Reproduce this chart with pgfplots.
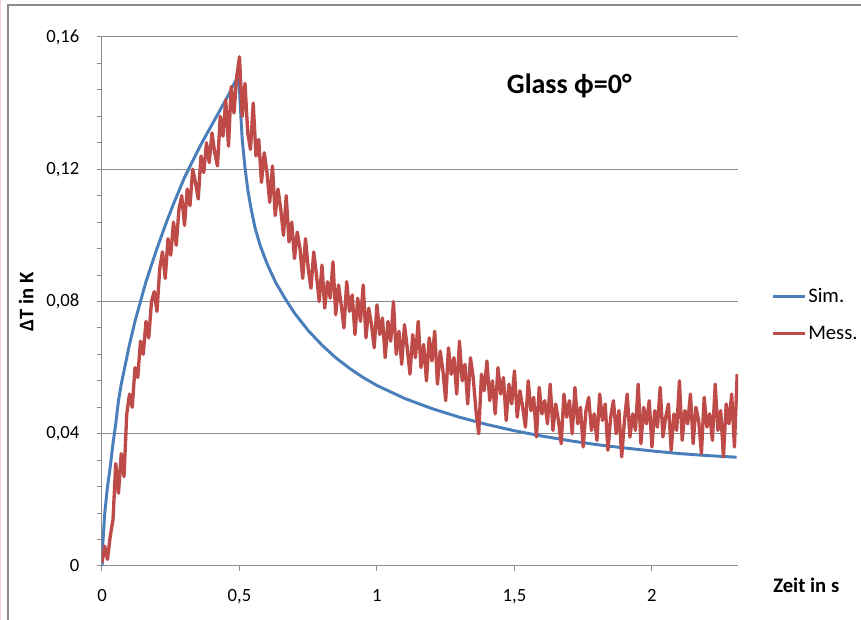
\documentclass[border=0pt]{standalone}
\usepackage{fontspec}
\setmainfont{Carlito}
\usepackage{pgfplots}
\pgfplotsset{compat=1.18}

\definecolor{simblue}{HTML}{4A7EBB}
\definecolor{messred}{HTML}{BE4B48}
\definecolor{axgray}{HTML}{8C8C8C}

\begin{document}
\begin{tikzpicture}
\useasboundingbox (-76.5pt,-40.5pt) rectangle (569.25pt,424.5pt);
\fill[white] (-76.5pt,-40.5pt) rectangle (569.25pt,424.5pt);
% frame of the chart area (cropped)
\draw[pink!70, line width=0.8pt] (-76pt,-40.5pt) -- (-76pt,424.5pt);
\draw[axgray, line width=1.1pt] (-70.5pt,-40.5pt) -- (-70.5pt,420.75pt) -- (569.25pt,420.75pt);

\begin{axis}[
    scale only axis,
    width=477pt, height=396.75pt,
    xmin=0, xmax=2.313,
    ymin=0, ymax=0.16,
    axis x line*=bottom,
    axis y line*=left,
    axis line style={axgray, line width=0.75pt},
    xtick={0,0.5,1,1.5,2},
    xticklabels={0,{0,5},1,{1,5},2},
    ytick={0,0.04,0.08,0.12,0.16},
    yticklabels={0,{0,04},{0,08},{0,12},{0,16}},
    minor y tick num=4,
    tick align=outside,
    major tick length=4pt,
    minor tick length=3.5pt,
    tick style={axgray, line width=0.75pt},
    ymajorgrids,
    major grid style={axgray, line width=0.75pt},
    yticklabel style={anchor=east, inner sep=0pt, xshift=-12.75pt, font=\fontsize{14}{16}\selectfont},
    xticklabel style={anchor=base, inner sep=0pt, yshift=-23pt, font=\fontsize{14}{16}\selectfont},
    legend style={at={(axis description cs:1,0.475)}, anchor=west, xshift=25pt,
        draw=none, fill=none, inner sep=0pt, row sep=14pt,
        font=\fontsize{15.5}{18}\selectfont,
        nodes={inner sep=1pt}},
    legend cell align=left,
    legend image code/.code={\draw[#1] (0pt,0pt) -- (24pt,0pt);},
]
% Sim.
\addplot[simblue, line width=2.2pt, line join=round] coordinates {
(0,0) (0.0025,0.006) (0.01,0.016) (0.02,0.024) (0.03,0.030) (0.04,0.037)
(0.05,0.043) (0.06,0.050) (0.07,0.055) (0.08,0.059) (0.10,0.067) (0.12,0.074)
(0.14,0.080) (0.16,0.086) (0.18,0.091) (0.20,0.096) (0.23,0.103) (0.26,0.1095)
(0.30,0.1175) (0.33,0.1225) (0.36,0.1275) (0.40,0.1335) (0.43,0.138) (0.46,0.1425)
(0.49,0.1475) (0.495,0.1482) (0.500,0.144) (0.505,0.136) (0.51,0.129) (0.52,0.1205)
(0.53,0.1140) (0.54,0.1090) (0.556,0.1025) (0.575,0.0970) (0.60,0.0915) (0.63,0.0860)
(0.665,0.0810) (0.70,0.0765) (0.75,0.0712) (0.80,0.0668) (0.85,0.0630) (0.90,0.0598)
(0.95,0.0570) (1.00,0.0546) (1.10,0.0507) (1.20,0.0476) (1.30,0.0450) (1.40,0.0428)
(1.50,0.0409) (1.60,0.0393) (1.70,0.0379) (1.80,0.0367) (1.90,0.0357) (2.00,0.0348)
(2.10,0.0340) (2.20,0.0334) (2.308,0.0329)
};
\addlegendentry{Sim.}
% Mess.
\addplot[messred, line width=2.5pt, line join=round] coordinates {
(0.00,0.001) (0.01,0.006) (0.02,0.002) (0.03,0.009) (0.04,0.014) (0.05,0.031)
(0.06,0.022) (0.07,0.034) (0.08,0.027) (0.09,0.046) (0.10,0.052) (0.11,0.048)
(0.12,0.060) (0.13,0.057) (0.14,0.068) (0.15,0.064) (0.16,0.074) (0.17,0.069)
(0.18,0.080) (0.19,0.083) (0.20,0.077) (0.21,0.090) (0.22,0.095) (0.23,0.087)
(0.24,0.099) (0.25,0.094) (0.26,0.104) (0.27,0.097) (0.28,0.108) (0.29,0.112)
(0.30,0.103) (0.31,0.114) (0.32,0.109) (0.33,0.120) (0.34,0.116) (0.35,0.111)
(0.36,0.124) (0.37,0.119) (0.38,0.128) (0.39,0.122) (0.40,0.131) (0.41,0.125)
(0.42,0.121) (0.43,0.136) (0.44,0.130) (0.45,0.141) (0.46,0.127) (0.47,0.145)
(0.48,0.137) (0.49,0.148) (0.50,0.154) (0.51,0.136) (0.52,0.146) (0.53,0.131)
(0.54,0.126) (0.55,0.140) (0.56,0.124) (0.57,0.129) (0.58,0.116) (0.59,0.125)
(0.60,0.119) (0.61,0.110) (0.62,0.121) (0.63,0.106) (0.64,0.114) (0.65,0.108)
(0.66,0.100) (0.67,0.112) (0.68,0.098) (0.69,0.104) (0.70,0.093) (0.71,0.101)
(0.72,0.096) (0.73,0.087) (0.74,0.099) (0.75,0.090) (0.76,0.084) (0.77,0.095)
(0.78,0.088) (0.79,0.080) (0.80,0.091) (0.81,0.078) (0.82,0.086) (0.83,0.081)
(0.84,0.092) (0.85,0.076) (0.86,0.085) (0.87,0.079) (0.88,0.072) (0.89,0.086)
(0.90,0.077) (0.91,0.082) (0.92,0.070) (0.93,0.081) (0.94,0.074) (0.95,0.085)
(0.96,0.069) (0.97,0.078) (0.98,0.073) (0.99,0.066) (1.00,0.079) (1.01,0.070)
(1.02,0.075) (1.03,0.063) (1.04,0.074) (1.05,0.068) (1.06,0.080) (1.07,0.064)
(1.08,0.071) (1.09,0.061) (1.10,0.073) (1.11,0.066) (1.12,0.058) (1.13,0.070)
(1.14,0.063) (1.15,0.074) (1.16,0.060) (1.17,0.067) (1.18,0.056) (1.19,0.069)
(1.20,0.062) (1.21,0.071) (1.22,0.055) (1.23,0.065) (1.24,0.059) (1.25,0.050)
(1.26,0.066) (1.27,0.058) (1.28,0.063) (1.29,0.052) (1.30,0.068) (1.31,0.056)
(1.32,0.061) (1.33,0.049) (1.34,0.063) (1.35,0.057) (1.36,0.047) (1.37,0.040)
(1.38,0.058) (1.39,0.053) (1.40,0.062) (1.41,0.050) (1.42,0.056) (1.43,0.046)
(1.44,0.060) (1.45,0.052) (1.46,0.057) (1.47,0.044) (1.48,0.055) (1.49,0.049)
(1.50,0.059) (1.51,0.045) (1.52,0.053) (1.53,0.048) (1.54,0.042) (1.55,0.056)
(1.56,0.047) (1.57,0.051) (1.58,0.039) (1.59,0.054) (1.60,0.046) (1.61,0.050)
(1.62,0.043) (1.63,0.055) (1.64,0.041) (1.65,0.049) (1.66,0.044) (1.67,0.037)
(1.68,0.052) (1.69,0.045) (1.70,0.050) (1.71,0.040) (1.72,0.054) (1.73,0.043)
(1.74,0.048) (1.75,0.036) (1.76,0.047) (1.77,0.051) (1.78,0.041) (1.79,0.046)
(1.80,0.038) (1.81,0.052) (1.82,0.044) (1.83,0.049) (1.84,0.035) (1.85,0.045)
(1.86,0.050) (1.87,0.040) (1.88,0.047) (1.89,0.033) (1.90,0.044) (1.91,0.052)
(1.92,0.039) (1.93,0.046) (1.94,0.041) (1.95,0.055) (1.96,0.037) (1.97,0.048)
(1.98,0.043) (1.99,0.050) (2.00,0.036) (2.01,0.047) (2.02,0.042) (2.03,0.054)
(2.04,0.039) (2.05,0.045) (2.06,0.049) (2.07,0.035) (2.08,0.046) (2.09,0.041)
(2.10,0.056) (2.11,0.038) (2.12,0.047) (2.13,0.043) (2.14,0.052) (2.15,0.037)
(2.16,0.048) (2.17,0.044) (2.18,0.034) (2.19,0.051) (2.20,0.042) (2.21,0.046)
(2.22,0.038) (2.23,0.055) (2.24,0.041) (2.25,0.047) (2.26,0.033) (2.27,0.049)
(2.28,0.043) (2.29,0.052) (2.30,0.036) (2.31,0.058)
};
\addlegendentry{Mess.}
\end{axis}

\node[anchor=base west, inner sep=0pt, font=\bfseries\fontsize{21}{24}\selectfont] at (303.5pt,354.5pt) {Glass ϕ=0°};
\node[anchor=base west, inner sep=0pt, font=\bfseries\fontsize{15.5}{18}\selectfont] at (503.25pt,-20.25pt) {Zeit in s};
\node[rotate=90, anchor=base, inner sep=0pt, font=\bfseries\fontsize{15.5}{18}\selectfont] at (-51.5pt,198pt) {ΔT in K};
\end{tikzpicture}
\end{document}
